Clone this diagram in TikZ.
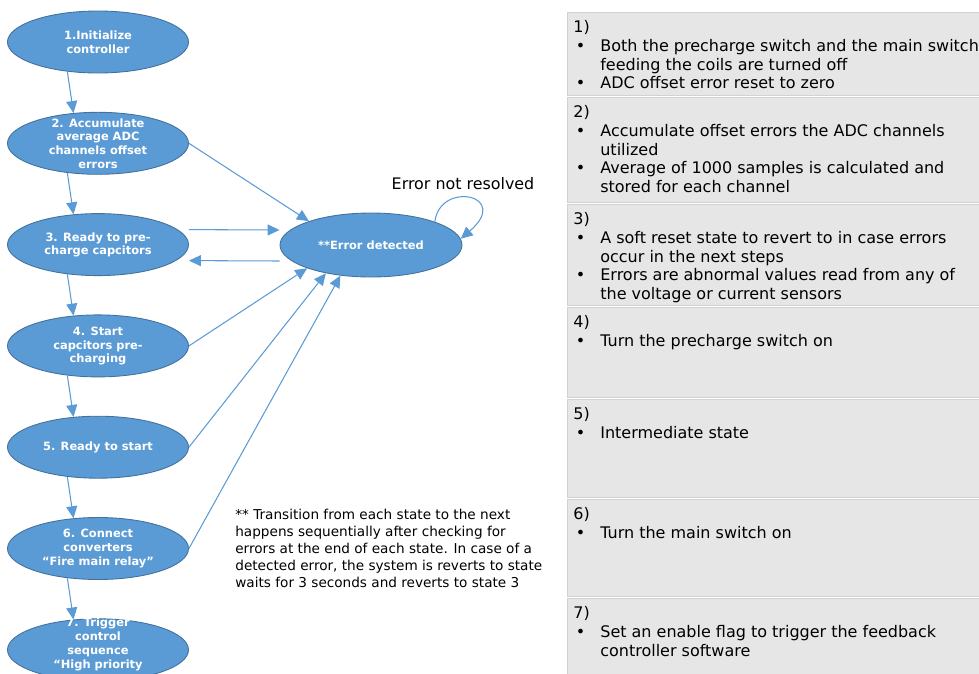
\documentclass[tikz,border=0pt]{standalone}
\usepackage{fontspec}
\setmainfont{DejaVu Sans}
\usepackage{xcolor}
\usepackage{tikz}
\usetikzlibrary{shapes.geometric, arrows.meta}

\definecolor{stateblue}{HTML}{5B9BD5}
\definecolor{stateedge}{HTML}{41719C}
\definecolor{panelgray}{HTML}{E6E6E6}
\definecolor{paneledge}{HTML}{D2D2D2}

\newcommand{\pxu}{0.02cm}
% state text in a zero-size box, so the ellipse keeps its set size
\newcommand{\stxt}[1]{\raisebox{-1.6pt}[0pt][0pt]{\makebox[0pt]{\parbox[c]{3.4cm}{\centering#1}}}}
% bullet line with hanging indent for the description panels
\newcommand{\pitem}[1]{\par\noindent\hangindent=0.54cm\hangafter=1\makebox[0.54cm][l]{\hspace{0.05cm}\textbullet}#1}
\newcommand{\pbox}[2]{\parbox[t][#1][t]{9cm}{\raggedright#2}}

\begin{document}
\begin{tikzpicture}[
    x=0.02cm, y=-0.02cm,
    state/.style={ellipse, draw=stateedge, line width=0.5pt, fill=stateblue, text=white, font=\fontsize{6.5}{7.8}\selectfont\bfseries, minimum width=181*\pxu, minimum height=62*\pxu, inner sep=0pt},
    err/.style={state, minimum width=182*\pxu, minimum height=64*\pxu},
    arr/.style={-{Triangle[length=2.4mm, width=2.2mm]}, line width=0.6pt, draw=stateblue},
    panel/.style={rectangle, fill=panelgray, draw=paneledge, line width=0.4pt, anchor=north west, inner xsep=6*\pxu, inner ysep=8*\pxu, font=\fontsize{9.1}{10.7}\selectfont},
    note/.style={anchor=north west, inner sep=0pt, align=left, font=\fontsize{7.75}{9.6}\selectfont},
]
\useasboundingbox (0,0) rectangle (979,673);

% states
\node[state] (s1) at (98,42) {\stxt{1.Initialize\\controller}};
\node[state] (s2) at (98,143.3) {\stxt{2. Accumulate\\average ADC\\channels offset\\errors}};
\node[state] (s3) at (98,244.6) {\stxt{3. Ready to pre-\\charge capcitors}};
\node[state] (s4) at (98,345.9) {\stxt{4. Start\\capcitors pre-\\charging}};
\node[state] (s5) at (98,447.2) {\stxt{5. Ready to start}};
\node[state] (s6) at (98,548.5) {\stxt{6. Connect\\converters\\“Fire main relay”}};
\node[state] (s7) at (98,649.8) {\stxt{7. Trigger\\control\\sequence\\“High priority\\\mbox{}}};
\node[err] (err) at (371,245) {\stxt{**Error detected}};
\node[font=\fontsize{9.05}{10.7}\selectfont, inner sep=0pt] (loopl) at (463,184) {Error not resolved};

% sequence
\draw[arr] (s1.224) -- (s2.129);
\draw[arr] (s2.224) -- (s3.129);
\draw[arr] (s3.224) -- (s4.129);
\draw[arr] (s4.224) -- (s5.129);
\draw[arr] (s5.224) -- (s6.129);
\draw[arr] (s6.224) -- (s7.129);

% error transitions
\draw[arr] (s2.east) -- (err.159);
\draw[arr] ([yshift=15*\pxu]s3.east) -- ([yshift=15*\pxu]err.west);
\draw[arr] ([yshift=-16*\pxu]err.west) -- ([yshift=-16*\pxu]s3.east);
\draw[arr] (s4.east) -- (err.200);
\draw[arr] (s5.east) -- (err.212);
\draw[arr] (s6.east) -- (err.225);
\draw[arr] (err.20) .. controls (440,180) and (512,195) .. (err.4);

\node[note] (remark) at (235,509) {** Transition from each state to the next\\happens sequentially after checking for\\errors at the end of each state. In case of a\\detected error, the system is reverts to state\\waits for 3 seconds and reverts to state 3};

% description panels
\node[panel] (d1) at (567,12) {\pbox{1.34cm}{1)\pitem{Both the precharge switch and the main switch\newline feeding the coils are turned off}\pitem{ADC offset error reset to zero}}};
\node[panel] (d2) at (567,97) {\pbox{1.78cm}{2)\pitem{Accumulate offset errors the ADC channels\newline utilized}\pitem{Average of 1000 samples is calculated and\newline stored for each channel}}};
\node[panel] (d3) at (567,204) {\pbox{1.70cm}{3)\pitem{A soft reset state to revert to in case errors\newline occur in the next steps}\pitem{Errors are abnormal values read from any of\newline the voltage or current sensors}}};
\node[panel] (d4) at (567,307) {\pbox{1.48cm}{4)\pitem{Turn the precharge switch on}}};
\node[panel] (d5) at (567,399) {\pbox{1.64cm}{5)\pitem{Intermediate state}}};
\node[panel] (d6) at (567,499) {\pbox{1.62cm}{6)\pitem{Turn the main switch on}}};
\node[panel] (d7) at (567,598) {\pbox{1.48cm}{7)\pitem{Set an enable flag to trigger the feedback\newline controller software}}};

\end{tikzpicture}
\end{document}
